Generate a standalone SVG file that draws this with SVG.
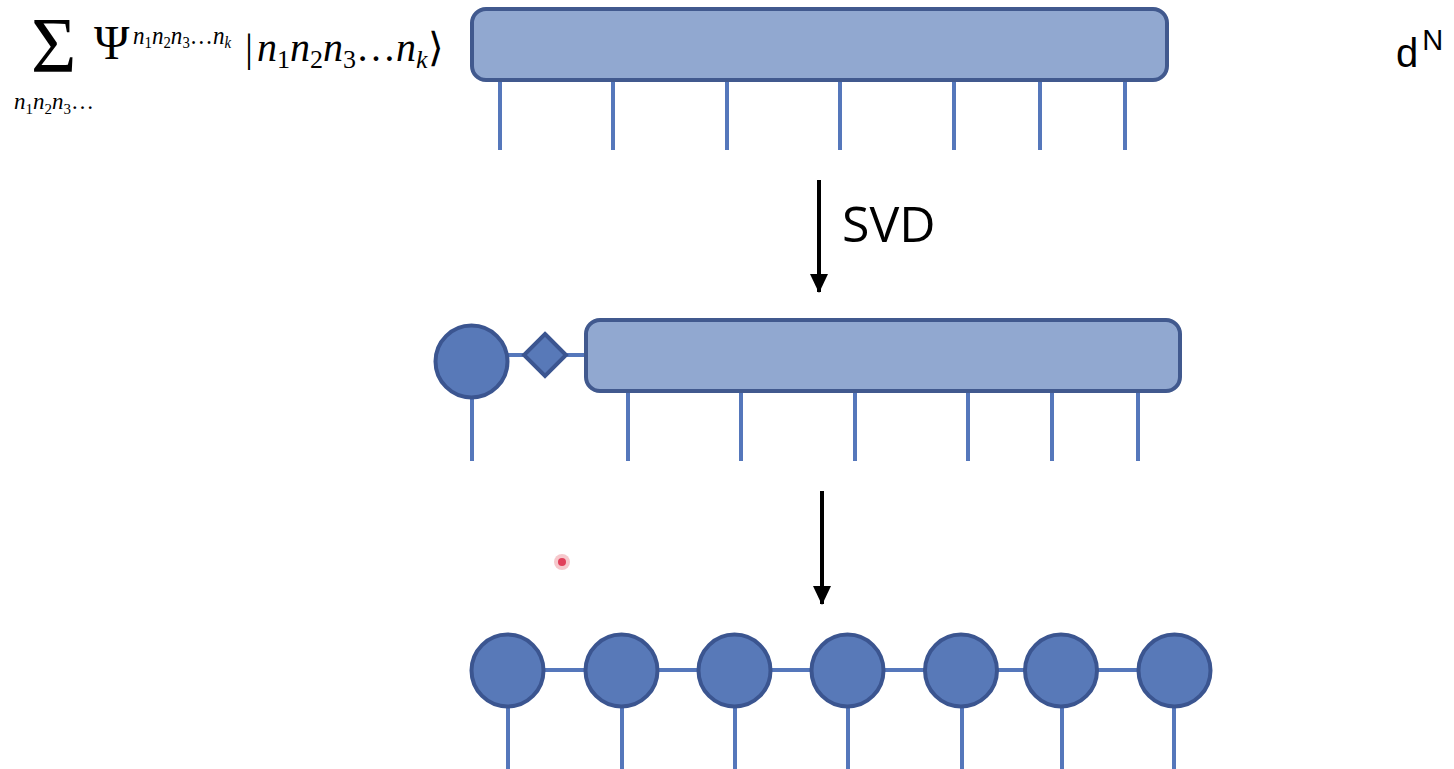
<svg xmlns="http://www.w3.org/2000/svg" width="1454" height="769" viewBox="0 0 1454 769">
<style>
.box{fill:#91a8d0;stroke:#41598e;stroke-width:4}
.node{fill:#5879b8;stroke:#3b5590;stroke-width:4}
.leg{stroke:#5577bb;stroke-width:4;fill:none}
.arr{stroke:#000;stroke-width:4;fill:none}
.math{font-family:"Liberation Serif",serif;fill:#000}
.it{font-style:italic}
</style>
<defs>
<marker id="ah" markerUnits="userSpaceOnUse" markerWidth="20" markerHeight="20" refX="18" refY="9" orient="auto">
<path d="M0,0 L19,9 L0,18 Z" fill="#000"/>
</marker>
</defs>
<rect width="1454" height="769" fill="#fff"/>

<g id="formula" class="math">
<text x="31" y="71" font-size="78">Σ</text>
<text x="14" y="109" font-size="23" class="it">n<tspan font-size="15" font-style="normal" dy="5">1</tspan><tspan dy="-5">n</tspan><tspan font-size="15" font-style="normal" dy="5">2</tspan><tspan dy="-5">n</tspan><tspan font-size="15" font-style="normal" dy="5">3</tspan><tspan dy="-5" font-style="normal">…</tspan></text>
<text x="94" y="59" font-size="48">Ψ</text>
<text x="133" y="44" font-size="25" class="it" textLength="98" lengthAdjust="spacingAndGlyphs">n<tspan font-size="16" font-style="normal" dy="4">1</tspan><tspan dy="-4">n</tspan><tspan font-size="16" font-style="normal" dy="4">2</tspan><tspan dy="-4">n</tspan><tspan font-size="16" font-style="normal" dy="4">3</tspan><tspan dy="-4" font-style="normal">…</tspan><tspan>n</tspan><tspan font-size="16" dy="4">k</tspan></text>
<text x="245" y="61" font-size="40"><tspan>|</tspan><tspan class="it" dx="4">n</tspan><tspan font-size="26" dy="7">1</tspan><tspan class="it" dy="-7">n</tspan><tspan font-size="26" dy="7">2</tspan><tspan class="it" dy="-7">n</tspan><tspan font-size="26" dy="7">3</tspan><tspan dy="-7">…</tspan><tspan class="it">n</tspan><tspan font-size="26" class="it" dy="7">k</tspan><tspan dy="-7">⟩</tspan></text>
</g>

<g id="dN" font-family="Liberation Sans, Arial, sans-serif" fill="#000">
<text x="1396" y="67" font-size="40">d<tspan font-size="29" dx="4" dy="-17">N</tspan></text>
</g>

<g id="connectors">
<line class="leg" x1="500" y1="80" x2="500" y2="150"/>
<line class="leg" x1="613" y1="80" x2="613" y2="150"/>
<line class="leg" x1="727" y1="80" x2="727" y2="150"/>
<line class="leg" x1="840" y1="80" x2="840" y2="150"/>
<line class="leg" x1="954" y1="80" x2="954" y2="150"/>
<line class="leg" x1="1040" y1="80" x2="1040" y2="150"/>
<line class="leg" x1="1125" y1="80" x2="1125" y2="150"/>

<line class="leg" x1="505" y1="355" x2="586" y2="355"/>
<line class="leg" x1="472" y1="396" x2="472" y2="461"/>
<line class="leg" x1="628" y1="390" x2="628" y2="461"/>
<line class="leg" x1="741" y1="390" x2="741" y2="461"/>
<line class="leg" x1="855" y1="390" x2="855" y2="461"/>
<line class="leg" x1="968" y1="390" x2="968" y2="461"/>
<line class="leg" x1="1052" y1="390" x2="1052" y2="461"/>
<line class="leg" x1="1138" y1="390" x2="1138" y2="461"/>

<line class="leg" x1="508" y1="670" x2="1174" y2="670"/>
<line class="leg" x1="508" y1="706" x2="508" y2="769"/>
<line class="leg" x1="622" y1="706" x2="622" y2="769"/>
<line class="leg" x1="735" y1="706" x2="735" y2="769"/>
<line class="leg" x1="848" y1="706" x2="848" y2="769"/>
<line class="leg" x1="962" y1="706" x2="962" y2="769"/>
<line class="leg" x1="1062" y1="706" x2="1062" y2="769"/>
<line class="leg" x1="1174" y1="706" x2="1174" y2="769"/>

<line class="arr" x1="819" y1="180" x2="819" y2="292" marker-end="url(#ah)"/>
<line class="arr" x1="822" y1="491" x2="822" y2="604" marker-end="url(#ah)"/>
</g>

<g id="tensor-top"><rect class="box" x="472" y="9" width="695" height="71" rx="14"/></g>

<g id="svd-label"><text x="842" y="242" font-family="Open Sans, sans-serif" font-size="50" fill="#000">SVD</text></g>

<g id="mid-site"><circle class="node" cx="471.5" cy="361.5" r="36"/></g>
<g id="mid-diamond"><polygon class="node" points="545,334 566,355 545,376 524,355"/></g>
<g id="tensor-mid"><rect class="box" x="586" y="320" width="594" height="71" rx="14"/></g>

<g id="mps">
<g id="s1"><circle class="node" cx="507.5" cy="670.5" r="36"/></g>
<g id="s2"><circle class="node" cx="621.5" cy="670.5" r="36"/></g>
<g id="s3"><circle class="node" cx="734.5" cy="670.5" r="36"/></g>
<g id="s4"><circle class="node" cx="847.5" cy="670.5" r="36"/></g>
<g id="s5"><circle class="node" cx="961" cy="670.5" r="36"/></g>
<g id="s6"><circle class="node" cx="1061" cy="670.5" r="36"/></g>
<g id="s7"><circle class="node" cx="1174.5" cy="670.5" r="36"/></g>
</g>

<g id="cursor"><circle cx="562" cy="562" r="8" fill="#f6c8cc"/><circle cx="562" cy="562" r="4" fill="#e0405a"/></g>
</svg>
